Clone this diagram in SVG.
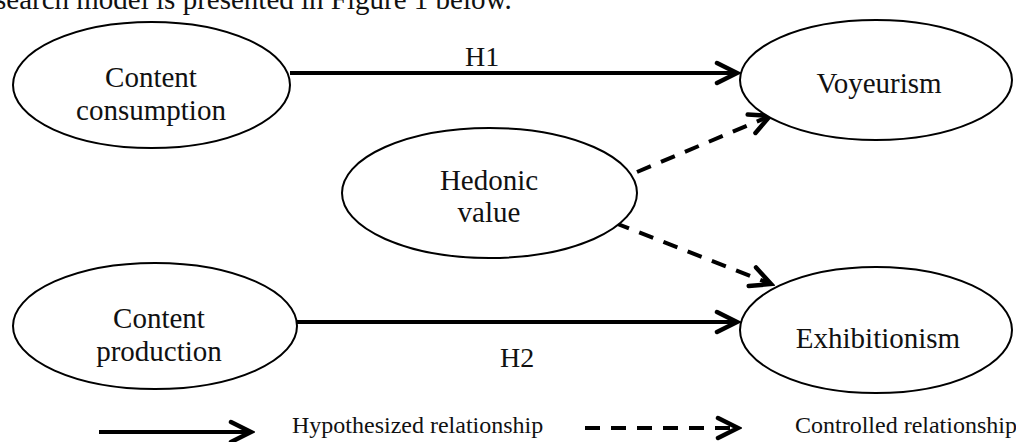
<svg xmlns="http://www.w3.org/2000/svg" width="1016" height="442" viewBox="0 0 1016 442">
<style>
text{font-family:"Liberation Serif","Times New Roman",serif;fill:#111}
.lbl{font-size:29px;text-anchor:middle}
.node{fill:#fff;stroke:#000;stroke-width:2}
.solid{stroke:#000;stroke-width:4;fill:none}
.dash{stroke:#000;stroke-width:4;fill:none;stroke-dasharray:15 11}
.leg{font-size:24px}
</style>
<defs>
<marker id="arr" markerUnits="userSpaceOnUse" viewBox="-24 -14 28 28" refX="0" refY="0" markerWidth="28" markerHeight="28" orient="auto">
<path d="M-20,-10 L0,0 L-20,10" fill="none" stroke="#000" stroke-width="4.5" stroke-linecap="round" stroke-linejoin="miter" stroke-dasharray="none"/>
</marker>
</defs>
<rect width="1016" height="442" fill="#fff"/>
<text x="-5" y="9" style="font-size:29px">search model is presented in Figure 1 below.</text>
<g id="connectors">
<line class="solid" x1="290" y1="73" x2="737" y2="73" marker-end="url(#arr)"/>
<line class="solid" x1="297" y1="322" x2="737" y2="322" marker-end="url(#arr)"/>
<line class="dash" x1="637" y1="172" x2="770" y2="116" marker-end="url(#arr)"/>
<line class="dash" x1="615" y1="223" x2="771" y2="284" marker-end="url(#arr)"/>
<text x="465" y="66" style="font-size:28px">H1</text>
<text x="500" y="367" style="font-size:28px">H2</text>
</g>
<g id="content-consumption">
<ellipse class="node" cx="151.5" cy="85" rx="138.5" ry="63"/>
<text class="lbl" x="151" y="87">Content</text>
<text class="lbl" x="151" y="120">consumption</text>
</g>
<g id="voyeurism">
<ellipse class="node" cx="876" cy="80" rx="136" ry="60"/>
<text class="lbl" x="879" y="93">Voyeurism</text>
</g>
<g id="hedonic-value">
<ellipse class="node" cx="489.5" cy="193" rx="147.5" ry="65"/>
<text class="lbl" x="489" y="190">Hedonic</text>
<text class="lbl" x="489" y="222">value</text>
</g>
<g id="content-production">
<ellipse class="node" cx="155" cy="326" rx="142" ry="63"/>
<text class="lbl" x="159" y="328">Content</text>
<text class="lbl" x="159" y="361">production</text>
</g>
<g id="exhibitionism">
<ellipse class="node" cx="876" cy="330" rx="136" ry="63"/>
<text class="lbl" x="878" y="348">Exhibitionism</text>
</g>
<g id="legend">
<line class="solid" x1="99" y1="432" x2="251" y2="432" marker-end="url(#arr)"/>
<text class="leg" x="292" y="433">Hypothesized relationship</text>
<line class="dash" x1="585" y1="428" x2="738" y2="428" marker-end="url(#arr)"/>
<text class="leg" x="795" y="433">Controlled relationship</text>
</g>
</svg>
